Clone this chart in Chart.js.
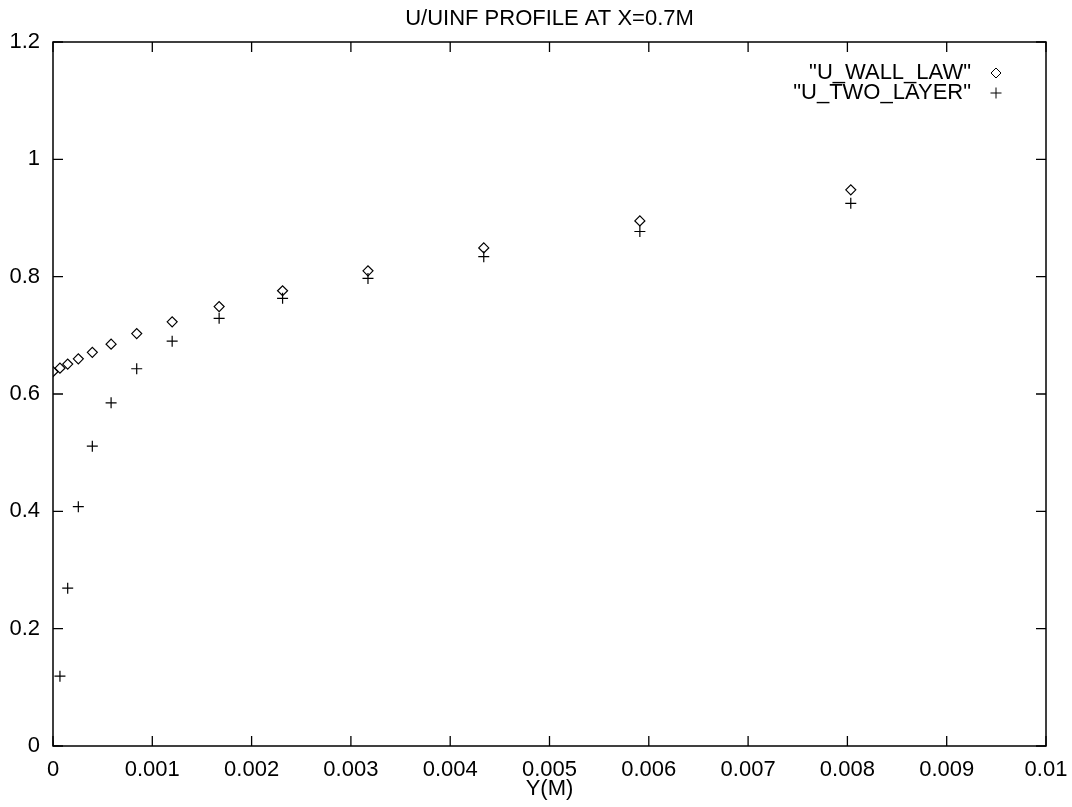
<!DOCTYPE html>
<html>
<head>
<meta charset="utf-8">
<script src="https://cdn.jsdelivr.net/npm/chart.js@4/dist/chart.umd.min.js"></script>
<style>
  html, body { margin: 0; padding: 0; background: #fff; }
  #wrap { width: 1072px; height: 807px; }
</style>
</head>
<body>
<div id="wrap"><canvas id="profileChart"></canvas></div>
<script>
// distance from the wall, Y(M)
const yPositions = [0, 0.00007, 0.000148, 0.000255, 0.000396, 0.000585, 0.000843,
    0.0012, 0.001673, 0.002312, 0.003172, 0.004338, 0.00591, 0.008034];
// U/UINF for both models
const wallLawValues = [0.638, 0.644, 0.651, 0.660, 0.671, 0.685, 0.703,
    0.723, 0.749, 0.776, 0.810, 0.849, 0.895, 0.948];
const twoLayerValues = [0, 0.119, 0.269, 0.408, 0.511, 0.585, 0.643,
    0.690, 0.729, 0.763, 0.797, 0.834, 0.877, 0.925];
const seriesLabels = ['"U_WALL_LAW"', '"U_TWO_LAYER"'];
const chartTitle = 'U/UINF PROFILE AT X=0.7M';
const xAxisTitle = 'Y(M)';
const xTickValues = [0, 0.001, 0.002, 0.003, 0.004, 0.005, 0.006, 0.007, 0.008, 0.009, 0.01];
const yTickValues = [0, 0.2, 0.4, 0.6, 0.8, 1, 1.2];

const FONT = 'Liberation Sans, Arial, Helvetica, sans-serif';
const FONT_SIZE = 22;
const TICK_LEN = 10;

function toPoints(xs, ys) {
    return xs.map((x, i) => ({ x: x, y: ys[i] }));
}

// gnuplot-like frame: box, inward ticks on all four sides, title and key inside the plot
const gnuplotFrame = {
    id: 'gnuplotFrame',
    afterDraw(chart) {
        const ctx = chart.ctx;
        const area = chart.chartArea;
        const xs = chart.scales.x;
        const ys = chart.scales.y;
        ctx.save();
        ctx.strokeStyle = '#000';
        ctx.lineWidth = 1.5;
        ctx.strokeRect(area.left, area.top, area.right - area.left, area.bottom - area.top);

        ctx.lineWidth = 1.3;
        ctx.beginPath();
        xTickValues.forEach(v => {
            const px = xs.getPixelForValue(v);
            ctx.moveTo(px, area.bottom);
            ctx.lineTo(px, area.bottom - TICK_LEN);
            ctx.moveTo(px, area.top);
            ctx.lineTo(px, area.top + TICK_LEN);
        });
        yTickValues.forEach(v => {
            const py = ys.getPixelForValue(v);
            ctx.moveTo(area.left, py);
            ctx.lineTo(area.left + TICK_LEN, py);
            ctx.moveTo(area.right, py);
            ctx.lineTo(area.right - TICK_LEN, py);
        });
        ctx.stroke();

        // title, centred on the plot area
        ctx.fillStyle = '#000';
        ctx.font = FONT_SIZE + 'px ' + FONT;
        ctx.textAlign = 'center';
        ctx.textBaseline = 'middle';
        ctx.fillText(chartTitle, (area.left + area.right) / 2, 19);

        // key: text right-aligned, sample marker after it
        ctx.textAlign = 'right';
        const keyTextRight = area.right - 75;
        const keyMarkX = area.right - 50;
        const rowY = [area.top + 31, area.top + 51];
        chart.data.datasets.forEach((ds, i) => {
            ctx.fillStyle = '#000';
            ctx.fillText(ds.label, keyTextRight, rowY[i]);
            ctx.lineWidth = 1;
            ctx.fillStyle = 'rgba(0,0,0,0)';
            Chart.helpers.drawPoint(ctx, {
                pointStyle: ds.pointStyle,
                radius: ds.pointRadius,
                borderWidth: 1
            }, keyMarkX, rowY[i]);
        });
        ctx.restore();
    }
};

const ctx = document.getElementById('profileChart').getContext('2d');
new Chart(ctx, {
    type: 'scatter',
    data: {
        datasets: [
            {
                label: seriesLabels[0],
                data: toPoints(yPositions, wallLawValues),
                pointStyle: 'rectRot',
                pointRadius: 5,
                borderColor: '#000',
                backgroundColor: 'rgba(0,0,0,0)',
                borderWidth: 1.2
            },
            {
                label: seriesLabels[1],
                data: toPoints(yPositions, twoLayerValues),
                pointStyle: 'cross',
                pointRadius: 5.5,
                borderColor: '#000',
                backgroundColor: '#000',
                borderWidth: 1.2
            }
        ]
    },
    options: {
        responsive: true,
        maintainAspectRatio: false,
        animation: false,
        events: [],
        layout: { padding: { top: 42, right: 26, left: 0, bottom: 0 } },
        plugins: {
            legend: { display: false },
            title: { display: false },
            tooltip: { enabled: false }
        },
        scales: {
            x: {
                type: 'linear',
                min: 0,
                max: 0.01,
                afterBuildTicks(scale) {
                    scale.ticks = xTickValues.map(v => ({ value: v }));
                },
                afterFit(scale) {
                    scale.height = 61;
                    scale.paddingLeft = 0;
                    scale.paddingRight = 0;
                },
                grid: { display: false, drawTicks: false },
                border: { display: false },
                ticks: {
                    color: '#000',
                    padding: 11,
                    maxRotation: 0,
                    autoSkip: false,
                    font: { family: FONT, size: FONT_SIZE },
                    callback: v => String(Number(v.toFixed(3)))
                },
                title: {
                    display: true,
                    text: xAxisTitle,
                    color: '#000',
                    padding: { top: 5, bottom: 5 },
                    font: { family: FONT, size: FONT_SIZE }
                }
            },
            y: {
                type: 'linear',
                min: 0,
                max: 1.2,
                afterBuildTicks(scale) {
                    scale.ticks = yTickValues.map(v => ({ value: v }));
                },
                afterFit(scale) {
                    scale.width = 53;
                    scale.paddingTop = 0;
                    scale.paddingBottom = 0;
                },
                grid: { display: false, drawTicks: false },
                border: { display: false },
                ticks: {
                    color: '#000',
                    padding: 13,
                    autoSkip: false,
                    font: { family: FONT, size: FONT_SIZE },
                    callback: v => String(Number(v.toFixed(1)))
                }
            }
        }
    },
    plugins: [gnuplotFrame]
});
</script>
</body>
</html>
